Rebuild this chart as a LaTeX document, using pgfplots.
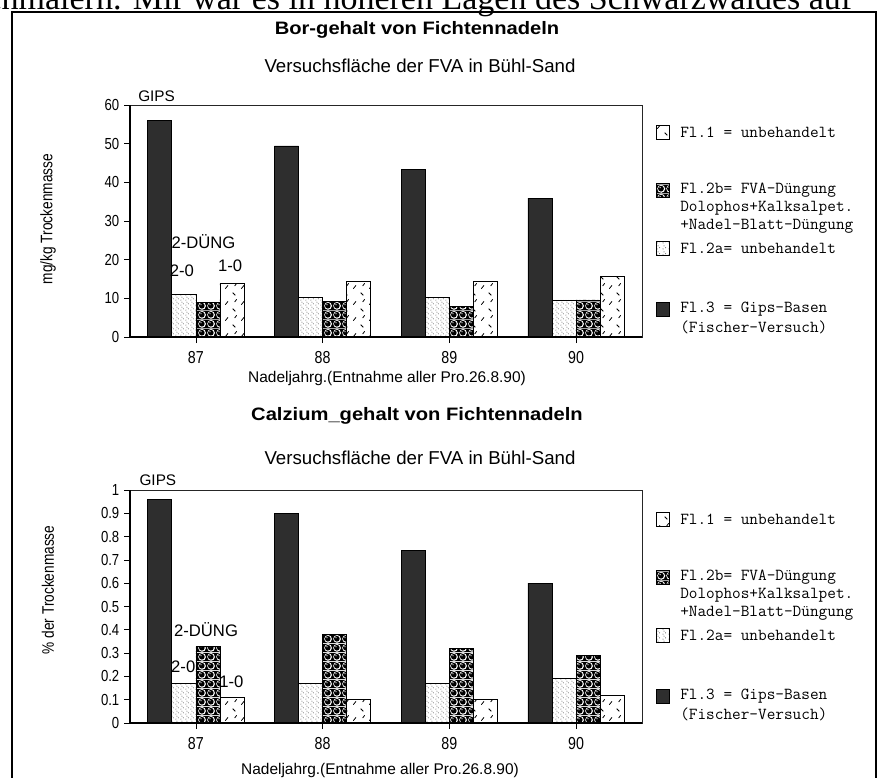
\documentclass[border=0pt]{standalone}
\usepackage{fontspec}
\setmainfont{Liberation Sans}
\newfontfamily\narrowfont[FakeStretch=0.82]{Liberation Sans}
\newfontfamily\titlefont[FakeStretch=1.12]{Liberation Sans}
\newfontfamily\pagefont{Liberation Serif}
\usepackage{pgfplots}
\pgfplotsset{compat=1.18}
\usetikzlibrary{patterns}

% Fl.1: short scattered strokes
\pgfdeclarepatternformonly{strokes}{\pgfqpoint{-1pt}{-1pt}}{\pgfqpoint{13pt}{13pt}}{\pgfqpoint{12pt}{12pt}}{%
  \pgfsetlinewidth{0.6pt}
  \pgfpathmoveto{\pgfqpoint{1pt}{7pt}}\pgfpathlineto{\pgfqpoint{3pt}{9.5pt}}
  \pgfpathmoveto{\pgfqpoint{6.5pt}{4pt}}\pgfpathlineto{\pgfqpoint{8.5pt}{2pt}}
  \pgfpathmoveto{\pgfqpoint{8pt}{9pt}}\pgfpathlineto{\pgfqpoint{9.5pt}{11pt}}
  \pgfusepath{stroke}}
% Fl.2a: fine stipple
\pgfdeclarepatternformonly{stipple}{\pgfqpoint{0pt}{0pt}}{\pgfqpoint{4pt}{4pt}}{\pgfqpoint{4pt}{4pt}}{%
  \pgfpathcircle{\pgfqpoint{0.8pt}{0.8pt}}{0.4pt}
  \pgfpathcircle{\pgfqpoint{2.8pt}{1.8pt}}{0.4pt}
  \pgfpathcircle{\pgfqpoint{1.6pt}{3.2pt}}{0.4pt}
  \pgfusepath{fill}}
% Fl.2b: black balls in white rings on black
\pgfdeclarepatterninherentlycolored{balls}{\pgfqpoint{0pt}{0pt}}{\pgfqpoint{6.75pt}{6.75pt}}{\pgfqpoint{6.75pt}{6.75pt}}{%
  \pgfsetfillcolor{black}
  \pgfpathrectangle{\pgfqpoint{0pt}{0pt}}{\pgfqpoint{6.75pt}{6.75pt}}\pgfusepath{fill}
  \pgfsetfillcolor{white}
  \pgfpathcircle{\pgfqpoint{3.375pt}{3.375pt}}{3.2pt}\pgfusepath{fill}
  \pgfsetfillcolor{black}
  \pgfpathcircle{\pgfqpoint{3.2pt}{3.5pt}}{2.35pt}\pgfusepath{fill}
  \pgfsetfillcolor{white}
  \pgfpathcircle{\pgfqpoint{2.5pt}{4.3pt}}{0.55pt}\pgfusepath{fill}}

\colorlet{gips}{black!82}

\tikzset{note/.style={font=\fontsize{12.5}{12.5}\selectfont, inner sep=0pt}}
\pgfplotsset{
  chart/.style={
    scale only axis, width=384pt, anchor=south west,
    xmin=86.48, xmax=90.52, ymin=0,
    ybar=0pt, bar width=0.19,
    clip=false,
    axis line style={black!85, line width=0.6pt},
    tick pos=left, tick align=outside,
    major tick length=4.5pt,
    tick style={black, line width=0.6pt},
    xtick={87,88,89,90},
    /pgf/number format/assume math mode=true,
    x tick label style={font=\narrowfont\fontsize{13}{13}\selectfont, yshift=-3pt},
    y tick label style={font=\narrowfont\fontsize{12}{12}\selectfont},
    every axis plot/.append style={draw=black, line width=0.5pt},
  },
}

\begin{document}
\begin{tikzpicture}
\path[use as bounding box] (0,0) rectangle (664.5pt,-583.5pt);
\clip (0,0) rectangle (664.5pt,-583.5pt);

% Bor
\begin{axis}[chart, at={(97.5pt,-252.75pt)}, height=174pt, ymax=60, ytick={0,10,...,60}]
\addplot[fill=gips] coordinates {(87,56) (88,49.4) (89,43.4) (90,35.9)};
\addplot[pattern=stipple, pattern color=black!75] coordinates {(87,11.1) (88,10.3) (89,10.3) (90,9.6)};
\addplot[pattern=balls] coordinates {(87,9) (88,9.3) (89,8) (90,9.6)};
\addplot[pattern=strokes] coordinates {(87,14) (88,14.5) (89,14.5) (90,15.8)};
\draw[line width=2.2pt] (rel axis cs:0,0) -- (rel axis cs:0,1);
\draw[line width=1.2pt] (rel axis cs:0,0) -- (rel axis cs:1,0);
\node[note, font=\fontsize{11.5}{11.5}\selectfont] at (axis cs:86.69,62.3) {GIPS};
\node[note] at (axis cs:87.06,24.6) {2-DÜNG};
\node[note] at (axis cs:86.89,17.1) {2-0};
\node[note] at (axis cs:87.27,18.4) {1-0};
\end{axis}

% Calzium
\begin{axis}[chart, at={(97.5pt,-542.25pt)}, height=174.75pt, ymax=1,
  ytick={0,0.1,0.2,0.3,0.4,0.5,0.6,0.7,0.8,0.9,1}]
\addplot[fill=gips] coordinates {(87,0.96) (88,0.90) (89,0.74) (90,0.60)};
\addplot[pattern=stipple, pattern color=black!75] coordinates {(87,0.17) (88,0.17) (89,0.17) (90,0.19)};
\addplot[pattern=balls] coordinates {(87,0.33) (88,0.38) (89,0.32) (90,0.29)};
\addplot[pattern=strokes] coordinates {(87,0.11) (88,0.10) (89,0.10) (90,0.12)};
\draw[line width=2.2pt] (rel axis cs:0,0) -- (rel axis cs:0,1);
\draw[line width=1.2pt] (rel axis cs:0,0) -- (rel axis cs:1,0);
\node[note, font=\fontsize{11.5}{11.5}\selectfont] at (axis cs:86.70,1.04) {GIPS};
\node[note] at (axis cs:87.08,0.40) {2-DÜNG};
\node[note] at (axis cs:86.90,0.24) {2-0};
\node[note] at (axis cs:87.28,0.176) {1-0};
\end{axis}

\begin{scope}[x=0.75pt, y=-0.75pt]
% page text and frame
\node[anchor=base west, inner sep=0pt, font=\pagefont\fontsize{25.5}{26}\selectfont] at (-27,9)
  {schmälern. Mir war es in höheren Lagen des Schwarzwaldes auf};
\draw[line width=1.9pt] (12,800) -- (12,12) -- (876,12) -- (876,800);

% titles
\node[font=\titlefont\bfseries\fontsize{13.5}{13.5}\selectfont] at (417,30) {Bor-gehalt von Fichtennadeln};
\node[font=\fontsize{14}{14}\selectfont] at (420,66) {Versuchsfläche der FVA in Bühl-Sand};
\node[font=\titlefont\bfseries\fontsize{13.5}{13.5}\selectfont] at (417,416) {Calzium\_gehalt von Fichtennadeln};
\node[font=\fontsize{14}{14}\selectfont] at (420,458) {Versuchsfläche der FVA in Bühl-Sand};

% axis labels
\node[font=\fontsize{11.6}{11.6}\selectfont] at (387,378) {Nadeljahrg.(Entnahme aller Pro.26.8.90)};
\node[font=\fontsize{11.6}{11.6}\selectfont] at (380,770) {Nadeljahrg.(Entnahme aller Pro.26.8.90)};
\node[rotate=90, font=\narrowfont\fontsize{12.5}{12.5}\selectfont] at (48,219) {mg/kg Trockenmasse};
\node[rotate=90, font=\narrowfont\fontsize{12.5}{12.5}\selectfont] at (48,590) {\% der Trockenmasse};

% legends
\foreach \dy/\sh in {0/0, 390/-3} {
  \begin{scope}[yshift=-\dy*0.75pt]
  \draw[pattern=strokes, line width=0.5pt] (656,125+\sh) rectangle (669,139+\sh);
  \draw[pattern=balls, line width=0.5pt] (656,183+\sh) rectangle (669,197+\sh);
  \draw[pattern=stipple, pattern color=black!75, line width=0.5pt] (656,241+\sh) rectangle (669,255+\sh);
  \draw[fill=gips, line width=0.5pt] (656,302+\sh) rectangle (669,316+\sh);
  \begin{scope}[every node/.style={anchor=west, inner sep=0pt, font=\ttfamily\fontsize{12.6}{12.6}\selectfont}]
  \node at (680,132+\sh) {Fl.1 = unbehandelt};
  \node at (680,190+\sh) {Fl.2b= FVA-Düngung};
  \node at (680,208+\sh) {Dolophos+Kalksalpet.};
  \node at (680,226+\sh) {+Nadel-Blatt-Düngung};
  \node at (680,248+\sh) {Fl.2a= unbehandelt};
  \node at (680,309+\sh) {Fl.3 = Gips-Basen};
  \node at (680,327+\sh) {(Fischer-Versuch)};
  \end{scope}
  \end{scope}
}
\end{scope}
\end{tikzpicture}
\end{document}
